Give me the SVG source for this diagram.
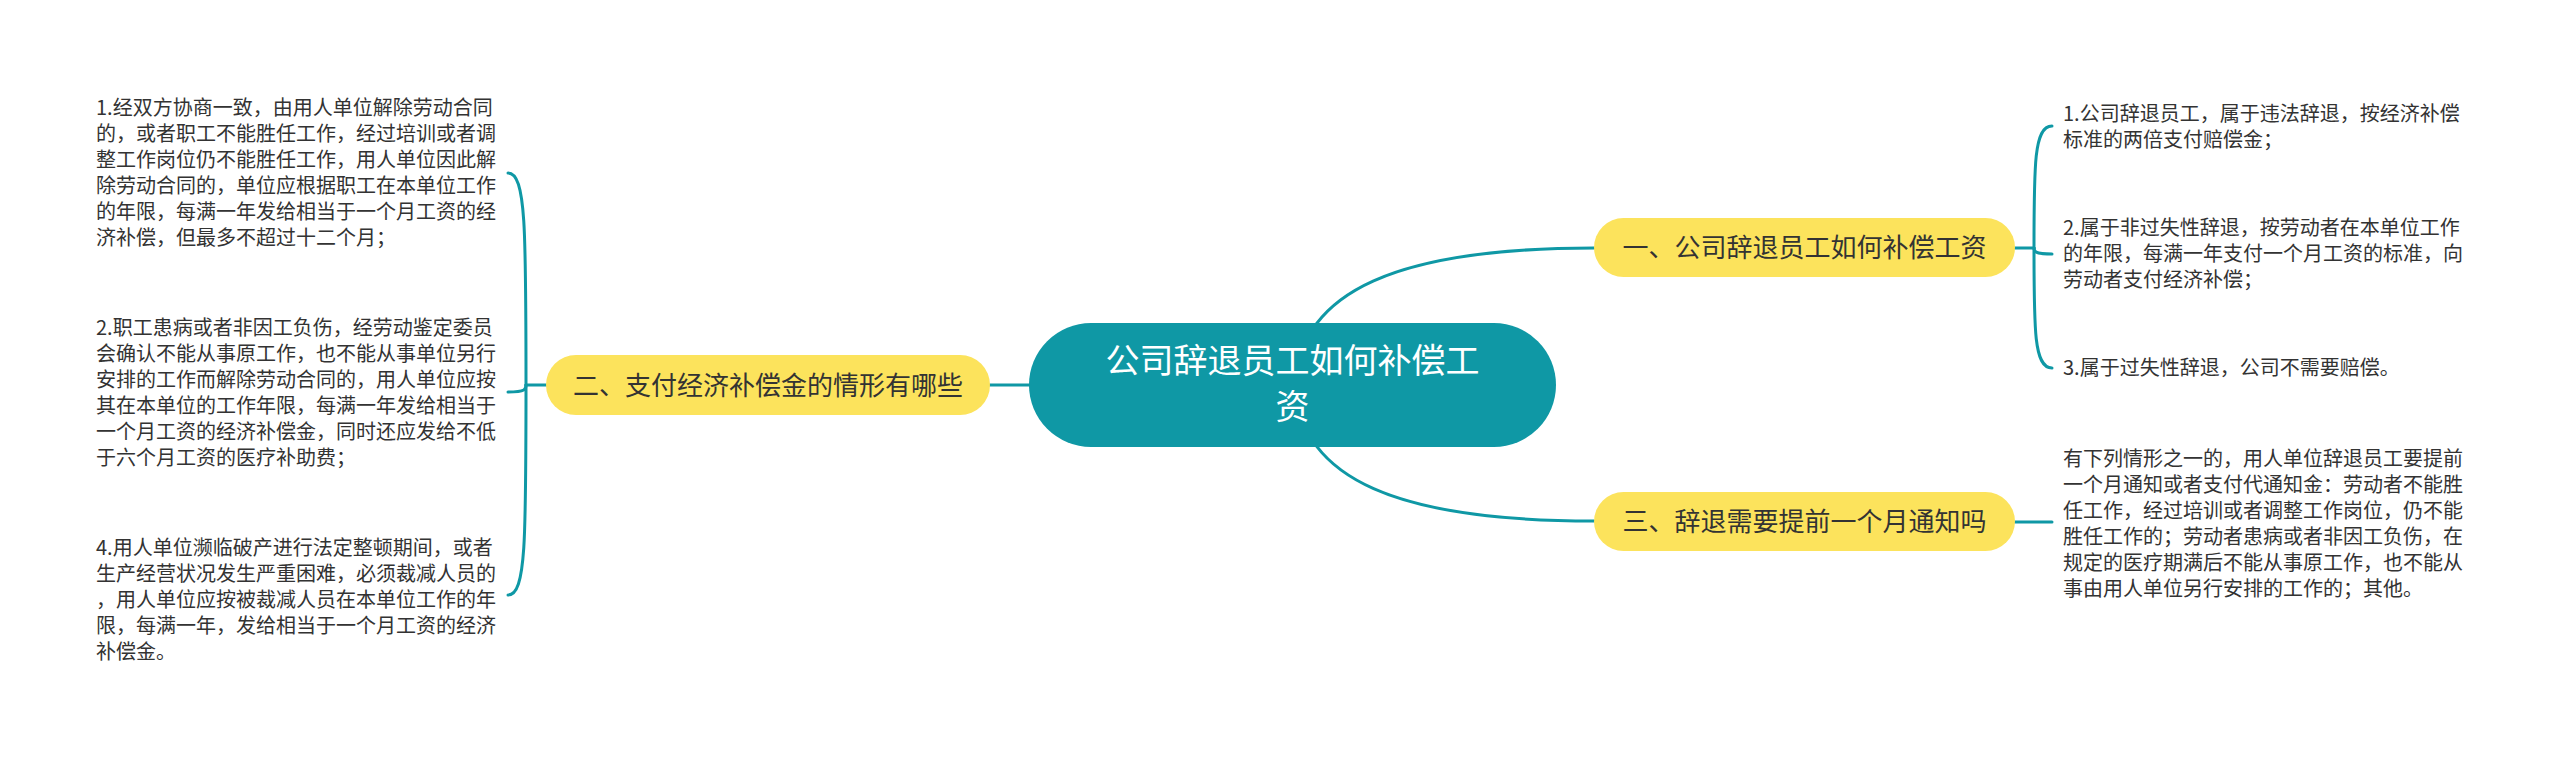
<svg xmlns="http://www.w3.org/2000/svg" width="2560" height="757" viewBox="0 0 2560 757">
<style>
.conn{fill:none;stroke:#0f98a5;stroke-width:3;stroke-linecap:round}
.root{fill:#0f98a5}
.branch{fill:#fce35c}
.rt{font-family:"Noto Sans CJK SC","Noto Sans",sans-serif;font-size:34px;fill:#ffffff;text-anchor:middle}
.bt{font-family:"Noto Sans CJK SC","Noto Sans",sans-serif;font-size:26px;fill:#333333;text-anchor:middle}
.lt{font-family:"Noto Sans CJK SC","Noto Sans",sans-serif;font-size:20px;fill:#333333}
</style>
<rect width="2560" height="757" fill="#ffffff"/>
<g id="connectors">
<path class="conn" d="M1029 385 L990 385"/>
<path class="conn" d="M1295 385 C1300 290 1400 248 1594 248"/>
<path class="conn" d="M1295 385 C1300 480 1400 521 1594 521"/>
<path class="conn" d="M546 385 L526 385"/>
<path class="conn" d="M526 385 C526 230 526 173 508 173"/>
<path class="conn" d="M526 385 C526 389 526 392 508 392"/>
<path class="conn" d="M526 385 C526 540 526 595 508 595"/>
<path class="conn" d="M2015 248 L2034 248"/>
<path class="conn" d="M2034 248 C2034 165 2034 126 2052 126"/>
<path class="conn" d="M2034 248 C2034 251 2034 254 2052 254"/>
<path class="conn" d="M2034 248 C2034 330 2034 368 2052 368"/>
<path class="conn" d="M2015 522 L2052 522"/>
</g>
<g id="root">
<rect class="root" x="1029" y="323" width="527" height="124" rx="62"/>
<text class="rt" x="1292.5" y="373">公司辞退员工如何补偿工</text>
<text class="rt" x="1292.5" y="419">资</text>
</g>
<g id="branch1">
<rect class="branch" x="1594" y="218" width="421" height="59" rx="29.5"/>
<text class="bt" x="1804.5" y="257">一、公司辞退员工如何补偿工资</text>
</g>
<g id="branch2">
<rect class="branch" x="546" y="355" width="444" height="60" rx="30"/>
<text class="bt" x="768" y="395">二、支付经济补偿金的情形有哪些</text>
</g>
<g id="branch3">
<rect class="branch" x="1594" y="492" width="421" height="59" rx="29.5"/>
<text class="bt" x="1804.5" y="531">三、辞退需要提前一个月通知吗</text>
</g>
<g id="leaf1-1">
<text class="lt" x="2063" y="121">1.公司辞退员工，属于违法辞退，按经济补偿</text>
<text class="lt" x="2063" y="147">标准的两倍支付赔偿金；</text>
</g>
<g id="leaf1-2">
<text class="lt" x="2063" y="235">2.属于非过失性辞退，按劳动者在本单位工作</text>
<text class="lt" x="2063" y="261">的年限，每满一年支付一个月工资的标准，向</text>
<text class="lt" x="2063" y="287">劳动者支付经济补偿；</text>
</g>
<g id="leaf1-3">
<text class="lt" x="2063" y="375">3.属于过失性辞退，公司不需要赔偿。</text>
</g>
<g id="leaf2-1">
<text class="lt" x="96" y="115">1.经双方协商一致，由用人单位解除劳动合同</text>
<text class="lt" x="96" y="141">的，或者职工不能胜任工作，经过培训或者调</text>
<text class="lt" x="96" y="167">整工作岗位仍不能胜任工作，用人单位因此解</text>
<text class="lt" x="96" y="193">除劳动合同的，单位应根据职工在本单位工作</text>
<text class="lt" x="96" y="219">的年限，每满一年发给相当于一个月工资的经</text>
<text class="lt" x="96" y="245">济补偿，但最多不超过十二个月；</text>
</g>
<g id="leaf2-2">
<text class="lt" x="96" y="335">2.职工患病或者非因工负伤，经劳动鉴定委员</text>
<text class="lt" x="96" y="361">会确认不能从事原工作，也不能从事单位另行</text>
<text class="lt" x="96" y="387">安排的工作而解除劳动合同的，用人单位应按</text>
<text class="lt" x="96" y="413">其在本单位的工作年限，每满一年发给相当于</text>
<text class="lt" x="96" y="439">一个月工资的经济补偿金，同时还应发给不低</text>
<text class="lt" x="96" y="465">于六个月工资的医疗补助费；</text>
</g>
<g id="leaf2-3">
<text class="lt" x="96" y="555">4.用人单位濒临破产进行法定整顿期间，或者</text>
<text class="lt" x="96" y="581">生产经营状况发生严重困难，必须裁减人员的</text>
<text class="lt" x="96" y="607">，用人单位应按被裁减人员在本单位工作的年</text>
<text class="lt" x="96" y="633">限，每满一年，发给相当于一个月工资的经济</text>
<text class="lt" x="96" y="659">补偿金。</text>
</g>
<g id="leaf3-1">
<text class="lt" x="2063" y="466">有下列情形之一的，用人单位辞退员工要提前</text>
<text class="lt" x="2063" y="492">一个月通知或者支付代通知金：劳动者不能胜</text>
<text class="lt" x="2063" y="518">任工作，经过培训或者调整工作岗位，仍不能</text>
<text class="lt" x="2063" y="544">胜任工作的；劳动者患病或者非因工负伤，在</text>
<text class="lt" x="2063" y="570">规定的医疗期满后不能从事原工作，也不能从</text>
<text class="lt" x="2063" y="596">事由用人单位另行安排的工作的；其他。</text>
</g>
</svg>
